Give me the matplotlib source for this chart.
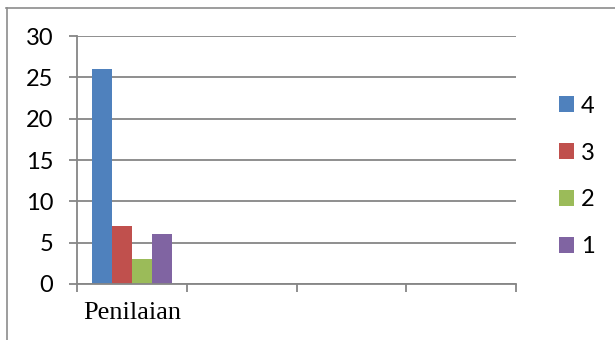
import numpy as np
import matplotlib.pyplot as plt
from matplotlib.lines import Line2D

categories = ["Penilaian", "", "", ""]
series_names = ["4", "3", "2", "1"]
series_values = [
    [26, np.nan, np.nan, np.nan],
    [7, np.nan, np.nan, np.nan],
    [3, np.nan, np.nan, np.nan],
    [6, np.nan, np.nan, np.nan],
]
colors = ["#4F81BD", "#C0504D", "#9BBB59", "#8064A2"]
y_ticks = [0, 5, 10, 15, 20, 25, 30]

grid_color = "#868686"

fig = plt.figure(figsize=(6.15, 3.4), dpi=100)
ax = fig.add_axes([77 / 615, 1 - 284 / 340, (516 - 77) / 615, (284 - 36) / 340])

# clustered bars, Excel style (gap width 150%)
n = len(series_names)
bar_w = 1 / (n + 1.5)
centers = np.arange(len(categories)) + 0.5
for i, (name, vals) in enumerate(zip(series_names, series_values)):
    offs = (i - (n - 1) / 2) * bar_w
    ax.bar(centers + offs, vals, width=bar_w, color=colors[i], label=name, zorder=3)

ax.set_xlim(0, len(categories))
ax.set_ylim(0, 30)

ax.set_yticks(y_ticks)
ax.set_yticklabels([str(t) for t in y_ticks], fontsize=17, family="Lato")
ax.yaxis.grid(True, color=grid_color, linewidth=1.3, zorder=0)

ax.set_xticks(np.arange(len(categories) + 1))
ax.set_xticklabels([])
ax.set_xticks(centers, minor=True)
ax.set_xticklabels(categories, minor=True, fontsize=19, family="Liberation Serif")
ax.tick_params(axis="x", which="minor", length=0, pad=13)
ax.tick_params(axis="x", which="major", length=6, width=1.3, color=grid_color)
ax.tick_params(axis="y", length=6, width=1.3, color=grid_color, pad=11)

for side in ["top", "right"]:
    ax.spines[side].set_visible(False)
for side in ["left", "bottom"]:
    ax.spines[side].set_color(grid_color)
    ax.spines[side].set_linewidth(1.3)
    ax.spines[side].set_zorder(4)

leg = fig.legend(
    loc="center left",
    bbox_to_anchor=(559 / 615, 1 - 176.5 / 340),
    frameon=False,
    prop={"family": "Lato", "size": 17},
    handlelength=0.64,
    handleheight=0.64,
    handletextpad=0.3,
    labelspacing=1.1,
    borderpad=0,
    borderaxespad=0,
)

# outer chart frame (left and top edges visible)
fig.add_artist(Line2D([6.5 / 615, 6.5 / 615], [0, 1 - 7.5 / 340], color="#8c8c8c", linewidth=1.2))
fig.add_artist(Line2D([6 / 615, 1], [1 - 7.5 / 340, 1 - 7.5 / 340], color="#8c8c8c", linewidth=1.2))

fig.savefig("out.png", dpi=100)
